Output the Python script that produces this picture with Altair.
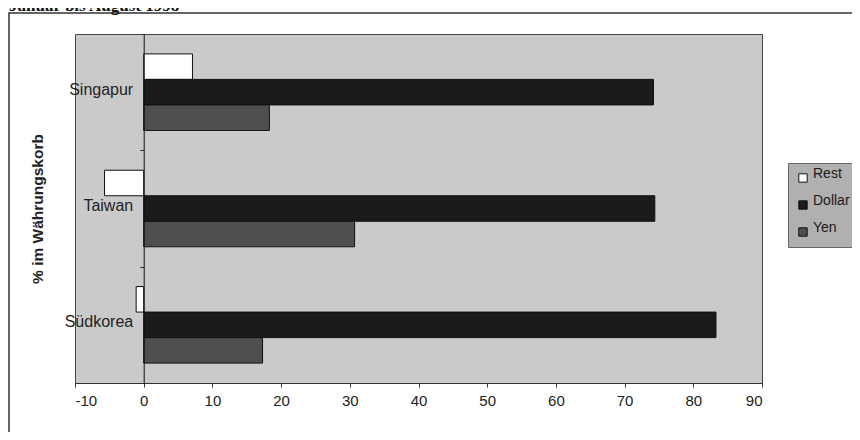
import altair as alt
import pandas as pd

countries = ["Singapur", "Taiwan", "Südkorea"]
series = ["Rest", "Dollar", "Yen"]
rest = [7.1, -5.7, -1.1]
dollar = [74.2, 74.4, 83.3]
yen = [18.3, 30.7, 17.3]
x_ticks = [-10, 0, 10, 20, 30, 40, 50, 60, 70, 80, 90]
colors = ["#ffffff", "#1b1b1b", "#4f4f4f"]
header = "Januar bis August 1998"

rows = []
for i, c in enumerate(countries):
    rows.append({"land": c, "serie": "Rest", "wert": rest[i]})
    rows.append({"land": c, "serie": "Dollar", "wert": dollar[i]})
    rows.append({"land": c, "serie": "Yen", "wert": yen[i]})
df = pd.DataFrame(rows)

W, H = 687, 349
FONT = "Liberation Sans"
zero_px = W * 10 / 100.0

bars = alt.Chart(df).mark_bar(stroke="#111111", strokeWidth=1).encode(
    x=alt.X("wert:Q",
            scale=alt.Scale(domain=[-10, 90], nice=False, zero=False),
            axis=alt.Axis(values=x_ticks, labelExpr="'' + datum.value",
                          title=None, grid=False,
                          tickSize=4, labelPadding=6, labelFontSize=15,
                          labelFont=FONT, labelColor="#222222",
                          domainColor="#333333", tickColor="#333333")),
    y=alt.Y("land:N", sort=countries,
            scale=alt.Scale(paddingInner=0, paddingOuter=0),
            axis=alt.Axis(title="% im Währungskorb", offset=-zero_px,
                          tickBand="extent", tickSize=4, labelPadding=7,
                          labelFontSize=16, labelFont=FONT, labelColor="#222222",
                          labelOffset=-3, domainColor="#111111",
                          tickColor="#333333", zindex=1,
                          titleFont=FONT, titleFontSize=15.5, titleFontWeight="bold",
                          titleColor="#222222", titleAngle=270,
                          titleX=-(zero_px + 38), titleY=H / 2,
                          titleAlign="center", titleBaseline="middle")),
    yOffset=alt.YOffset("serie:N", sort=series,
                        scale=alt.Scale(paddingInner=0, paddingOuter=0.78)),
    color=alt.Color("serie:N", sort=series,
                    scale=alt.Scale(domain=series, range=colors),
                    legend=alt.Legend(title=None, orient="none",
                                      legendX=713, legendY=129,
                                      fillColor="#b0b0b0", strokeColor="#666666",
                                      padding=8, symbolType="square",
                                      symbolSize=70, symbolStrokeColor="#111111",
                                      symbolStrokeWidth=1, labelFontSize=14,
                                      labelFont=FONT, labelColor="#1a1a1a",
                                      rowPadding=9, labelOffset=3,
                                      labelBaseline="alphabetic")),
)

frame = alt.Chart(alt.Data(values=[{}])).mark_rect(
    fill=None, stroke="#333333", strokeWidth=1.5
).encode(
    x=alt.value(-66), x2=alt.value(W + 140),
    y=alt.value(-21), y2=alt.value(H + 120),
)

head = alt.Chart(alt.Data(values=[{"t": header}])).mark_text(
    align="left", baseline="alphabetic", font="Liberation Serif",
    fontSize=17, fontWeight="bold", color="#111111"
).encode(x=alt.value(-66), y=alt.value(-23), text="t:N")

chart = alt.layer(frame, bars, head).properties(
    width=W, height=H,
    autosize=alt.AutoSizeParams(type="none"),
    padding={"left": 67, "top": 26, "right": 90, "bottom": 49},
    background="white",
).configure_view(fill="#cacaca", stroke="#444444", strokeWidth=1)

chart.save("out.html", embed_options={"renderer": "svg", "actions": False})
